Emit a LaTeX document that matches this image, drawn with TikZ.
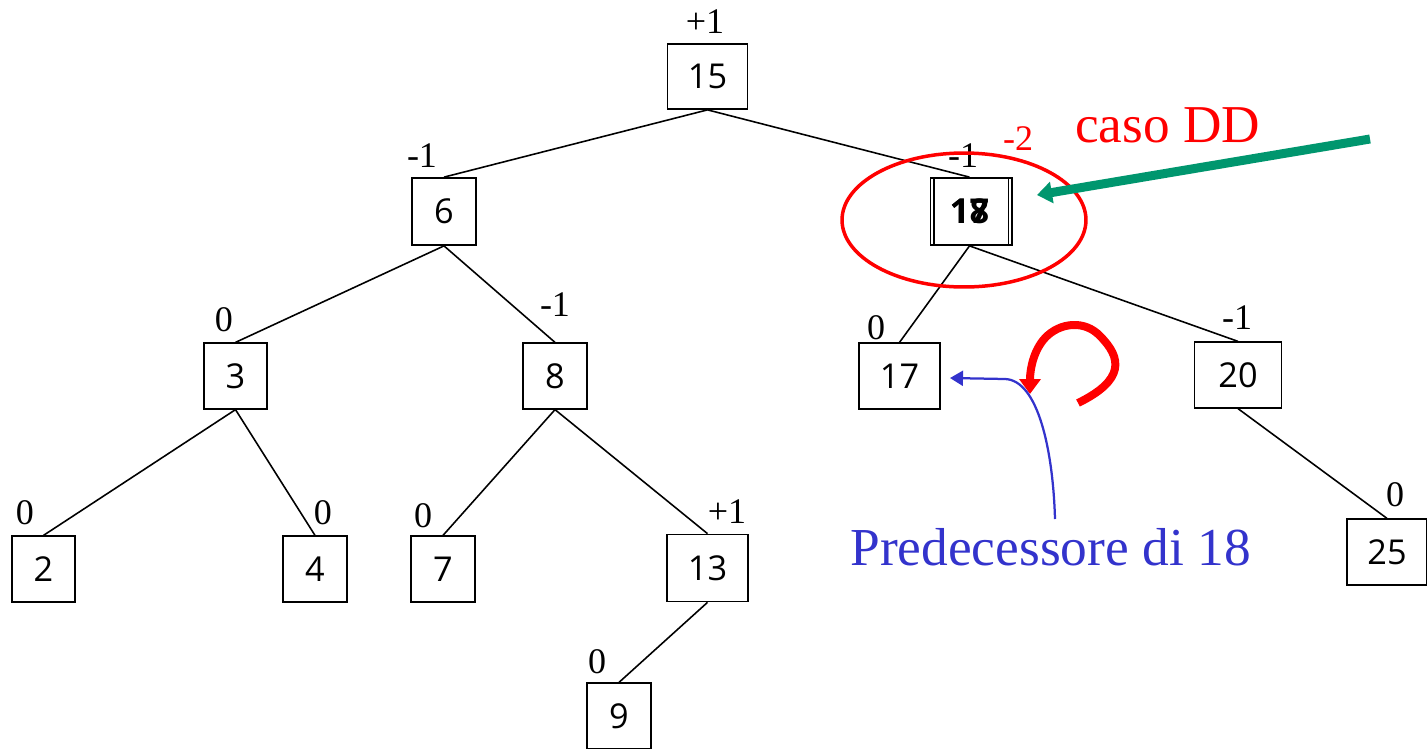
\documentclass[tikz,border=0pt]{standalone}
\usepackage{fontspec}
\setmainfont{Liberation Serif}
\newfontfamily\boxfont{Open Sans}
\usetikzlibrary{arrows.meta}
\definecolor{dgreen}{RGB}{0,150,110}
\definecolor{pblue}{RGB}{51,51,204}
\definecolor{pred}{RGB}{255,0,0}
\tikzset{
  keybox/.style={draw, line width=1pt, inner sep=0pt, minimum width=1.27cm, minimum height=1.31cm, font=\boxfont\fontsize{19.5}{20}\selectfont},
  widebox/.style={keybox, minimum width=1.6cm},
  bal/.style={inner sep=0pt, font=\fontsize{20.5}{21}\selectfont},
  edge/.style={line width=0.9pt},
}
\begin{document}
\begin{tikzpicture}[x=0.02cm, y=-0.02cm]
\useasboundingbox (0,0) rectangle (1427,748);
% nodes
\node[widebox, minimum height=1.3cm] (n15) at (707.5,76.5) {15};
\node[keybox, minimum height=1.34cm] (n6) at (444,211.5) {6};
\node[keybox] (n3) at (235.5,376) {3};
\node[keybox] (n8) at (555,376) {8};
\node[widebox, minimum width=1.62cm] (n17) at (899.5,376) {17};
\node[widebox, minimum width=1.74cm] (n20) at (1238,375) {20};
\node[keybox] (n2) at (43.5,569) {2};
\node[keybox] (n4) at (315,569) {4};
\node[keybox] (n7) at (443,569) {7};
\node[widebox, minimum width=1.62cm, minimum height=1.34cm] (n13) at (707.5,568) {13};
\node[keybox] (n9) at (619,716) {9};
\node[widebox] (n25) at (1387,552) {25};
% overlapped 18 / 17
\node[widebox, minimum width=1.56cm, minimum height=1.34cm] (n18b) at (973,211.5) {};
\node[widebox, minimum width=1.56cm, minimum height=1.34cm, font=\boxfont\bfseries\fontsize{19.5}{20}\selectfont] (n18) at (969.5,211.5) {18};
\node[inner sep=0pt, font=\boxfont\bfseries\fontsize{19.5}{20}\selectfont] (n18t) at (n18.center) {17};
% edges
\draw[edge] (n15.south) -- (n6.north);
\draw[edge] (n15.south) -- (n18.north);
\draw[edge] (n6.south) -- (n3.north);
\draw[edge] (n6.south) -- (n8.north);
\draw[edge] (n3.south) -- (n2.north);
\draw[edge] (n3.south) -- (n4.north);
\draw[edge] (n8.south) -- (n7.north);
\draw[edge] (n8.south) -- (n13.north);
\draw[edge] (n13.south) -- (n9.north);
\draw[edge] (n18.south) -- (n17.north);
\draw[edge] (n18.south) -- (n20.north);
\draw[edge] (n20.south) -- (n25.north);
% balance factors
\node[bal] (b15) at (705,22) {+1};
\node[bal] (b6) at (422,156) {-1};
\node[bal] (b18) at (963,156) {-1};
\node[bal, text=pred] (b18n) at (1018,139) {-2};
\node[bal] (b3) at (224,320) {0};
\node[bal] (b8) at (555,305) {-1};
\node[bal] (b17) at (876,328) {0};
\node[bal] (b20) at (1237,318) {-1};
\node[bal] (b2) at (25,513) {0};
\node[bal] (b4) at (323,513) {0};
\node[bal] (b7) at (423,516) {0};
\node[bal] (b13) at (727,512) {+1};
\node[bal] (b9) at (597,662) {0};
\node[bal] (b25) at (1395,495) {0};
% red ellipse
\draw[pred, line width=0.07cm] (964,220) ellipse [x radius=2.44cm, y radius=1.34cm];
% caso DD
\node[anchor=base west, inner sep=0pt, text=pred, font=\fontsize{30.3}{31}\selectfont] (caso) at (1075,142) {caso DD};
\coordinate (gs) at (1370,139);
\coordinate (ge) at (1037,195);
\draw[dgreen, line width=0.18cm, -{Triangle[length=0.3cm, width=0.42cm]}] (gs) -- (ge);
% red curl
\coordinate (rs) at (1078,403);
\coordinate (re) at (1030,394);
\draw[pred, line width=0.16cm, line join=round, -{Triangle[length=0.3cm, width=0.42cm]}]
  (rs) .. controls (1125,380) and (1122,358) .. (1100,336)
  .. controls (1085,320) and (1060,322) .. (1045,338)
  .. controls (1034,350) and (1030,368) .. (re);
% predecessore
\node[anchor=base west, inner sep=0pt, text=pblue, font=\fontsize{30.4}{31}\selectfont] (pred) at (850,565) {Predecessore di 18};
\coordinate (bs) at (1055,519);
\draw[pblue, line width=0.045cm, -{Triangle[length=0.26cm, width=0.3cm]}]
  (bs) .. controls (1053,450) and (1038,380) .. (1005,379) -- (950,378);
\end{tikzpicture}
\end{document}
